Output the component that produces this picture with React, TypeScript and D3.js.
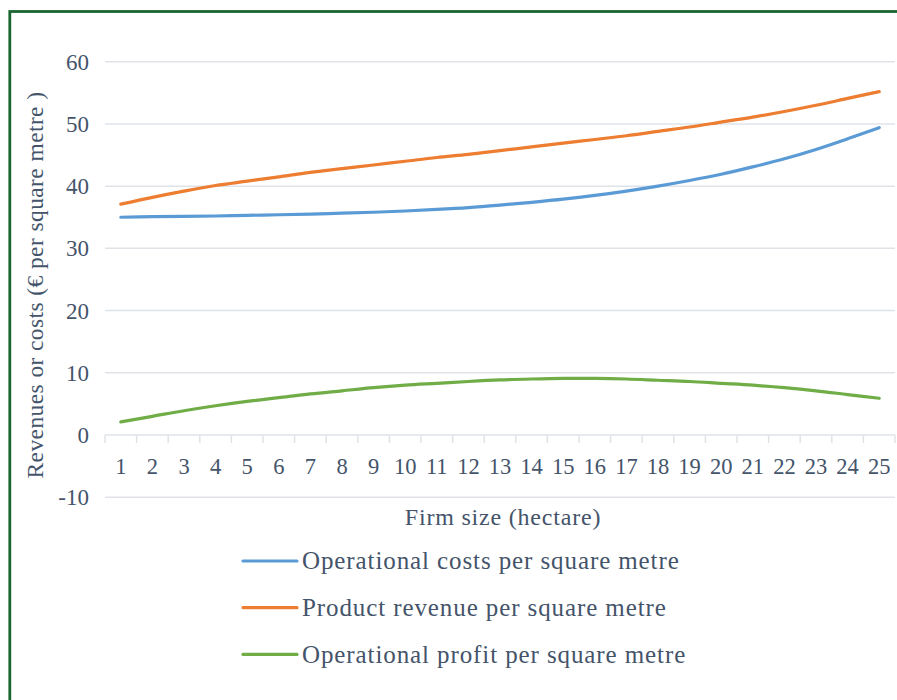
import React from 'react';
import * as d3 from 'd3';

// firm size categories (hectare)
const sizes = d3.range(1, 26).map(String);

// values, € per square metre
const costs = [35.0, 35.1, 35.15, 35.2, 35.3, 35.4, 35.5, 35.65, 35.8, 36.0, 36.25, 36.55, 36.95, 37.4, 37.9, 38.5, 39.2, 40.0, 40.9, 41.9, 43.1, 44.4, 45.9, 47.6, 49.4];
const revenue = [37.1, 38.2, 39.2, 40.1, 40.8, 41.5, 42.2, 42.8, 43.4, 44.0, 44.6, 45.1, 45.7, 46.3, 46.9, 47.5, 48.1, 48.8, 49.5, 50.3, 51.1, 52.0, 53.0, 54.1, 55.2];
const profit = [2.1, 3.0, 3.9, 4.7, 5.4, 6.0, 6.6, 7.1, 7.6, 8.0, 8.3, 8.6, 8.85, 9.0, 9.1, 9.1, 9.0, 8.8, 8.6, 8.3, 8.0, 7.6, 7.1, 6.5, 5.9];

const yTicks = [-10, 0, 10, 20, 30, 40, 50, 60];

const series = [
  { name: 'Operational costs per square metre', values: costs, color: '#5B9BD5' },
  { name: 'Product revenue per square metre', values: revenue, color: '#ED7D31' },
  { name: 'Operational profit per square metre', values: profit, color: '#70AD47' },
];

const W = 897;
const H = 700;
const font = '"Liberation Serif", "DejaVu Serif", serif';
const textColor = '#44546A';
const gridColor = '#dfe3e8';

export default function App() {
  const x = d3.scaleBand().domain(sizes).range([105, 895]).padding(0);
  const y = d3.scaleLinear().domain([-10, 60]).range([497.2, 61.7]);
  const cx = (i: number) => (x(sizes[i]) as number) + x.bandwidth() / 2;

  const line = d3
    .line<number>()
    .x((d, i) => cx(i))
    .y((d) => y(d))
    .curve(d3.curveCatmullRom.alpha(0.5));

  const boundaries = sizes.map((s) => x(s) as number).concat([x.range()[1]]);

  return (
    <div style={{ position: 'absolute', left: 0, top: 0 }}>
      <svg width={W} height={H} style={{ display: 'block', background: '#fff' }} fontFamily={font}>
        {/* frame */}
        <rect x={9.8} y={11.5} width={W + 20} height={H + 20} fill="none" stroke="#1B6531" strokeWidth={2.8} />

        {/* gridlines */}
        {yTicks.filter((t) => t !== 0).map((t) => (
          <line key={t} x1={105} x2={895} y1={y(t)} y2={y(t)} stroke={gridColor} strokeWidth={1.5} />
        ))}

        {/* y tick labels */}
        {yTicks.map((t) => (
          <text key={t} x={89} y={y(t)} dy="0.35em" textAnchor="end" fontSize={23} fill={textColor}>
            {t}
          </text>
        ))}

        {/* category axis at zero */}
        <line x1={105} x2={895} y1={y(0)} y2={y(0)} stroke={gridColor} strokeWidth={1.5} />
        {boundaries.map((b, i) => (
          <line key={i} x1={b} x2={b} y1={y(0)} y2={y(0) + 8} stroke={gridColor} strokeWidth={1.5} />
        ))}
        {sizes.map((s, i) => (
          <text key={s} x={cx(i)} y={474} textAnchor="middle" fontSize={22.5} fill={textColor}>
            {s}
          </text>
        ))}

        {/* series */}
        {series.map((s) => (
          <path key={s.name} d={line(s.values) || ''} fill="none" stroke={s.color} strokeWidth={3.2} strokeLinecap="round" />
        ))}

        {/* axis titles */}
        <text x={503} y={525} textAnchor="middle" fontSize={24} letterSpacing={0.8} fill={textColor}>
          Firm size (hectare)
        </text>
        <text transform="translate(43,285) rotate(-90)" textAnchor="middle" fontSize={23.5} letterSpacing={0.4} fill={textColor}>
          Revenues or costs (€ per square metre )
        </text>

        {/* legend */}
        {series.map((s, i) => {
          const ly = 561 + i * 46.7;
          return (
            <g key={s.name}>
              <line x1={243} x2={297} y1={ly} y2={ly} stroke={s.color} strokeWidth={3.2} strokeLinecap="round" />
              <text x={302} y={ly} dy="0.33em" fontSize={25} letterSpacing={0.9} fill={textColor}>
                {s.name}
              </text>
            </g>
          );
        })}
      </svg>
    </div>
  );
}
